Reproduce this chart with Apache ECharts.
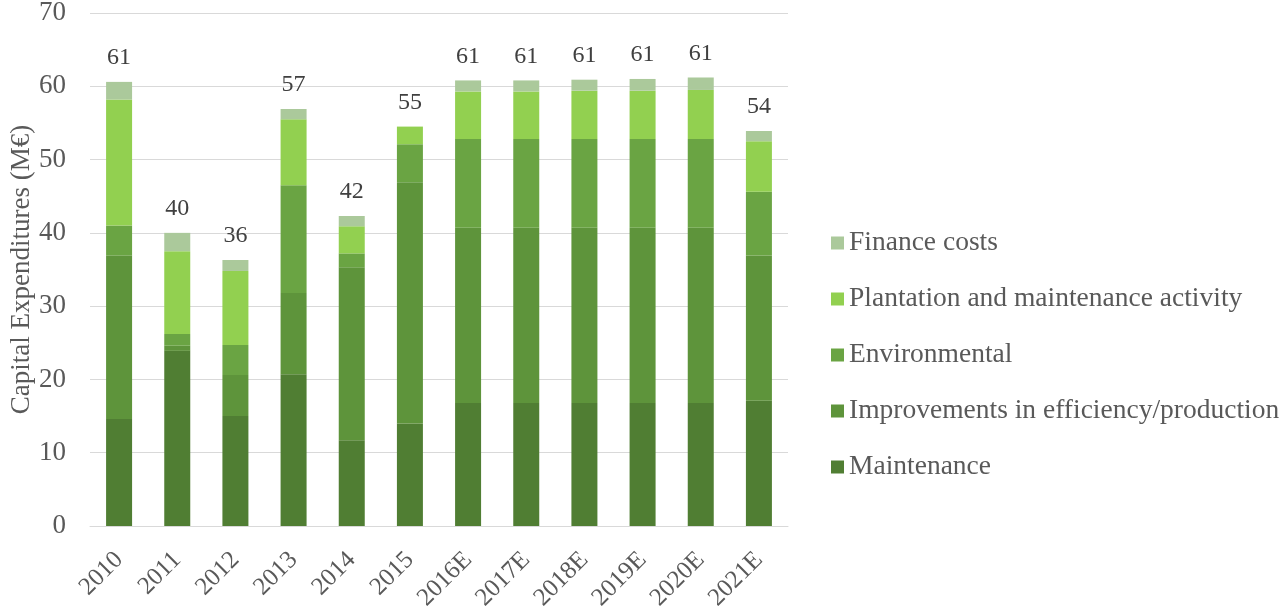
<!DOCTYPE html>
<html><head><meta charset="utf-8">
<script src="https://cdn.jsdelivr.net/npm/echarts@6/dist/echarts.min.js"></script>
<style>html,body{margin:0;padding:0;background:#fff}#c{width:1283px;height:616px}</style>
</head><body><div id="c"></div>
<script>
const categories = ['2010','2011','2012','2013','2014','2015','2016E','2017E','2018E','2019E','2020E','2021E'];
const maintenance = [14.6, 23.9, 15.0, 20.7, 11.7, 14.0, 16.8, 16.8, 16.8, 16.8, 16.8, 17.1];
const improvements = [22.3, 0.7, 5.6, 11.1, 23.6, 32.9, 23.9, 23.9, 23.9, 23.9, 23.9, 19.8];
const environmental = [4.1, 1.6, 4.1, 14.7, 1.9, 5.2, 12.1, 12.1, 12.1, 12.1, 12.1, 8.7];
const plantation = [17.2, 11.3, 10.1, 9.0, 3.7, 2.4, 6.5, 6.5, 6.6, 6.6, 6.7, 6.9];
const finance = [2.4, 2.5, 1.5, 1.4, 1.4, 0, 1.5, 1.5, 1.5, 1.6, 1.7, 1.4];
const yTicks = [0, 10, 20, 30, 40, 50, 60, 70];

const font = 'Liberation Serif';
const totals = categories.map((_, i) => maintenance[i] + improvements[i] + environmental[i] + plantation[i] + finance[i]);

function mk(name, data, color, withLabel) {
  const s = { name, type: 'bar', stack: 'all', data, barWidth: 26, itemStyle: { color }, emphasis: { disabled: true } };
  if (withLabel) {
    s.label = { show: true, position: 'top', distance: 12, fontFamily: font, fontSize: 24, color: '#404040',
      formatter: p => Math.round(totals[p.dataIndex]) };
  }
  return s;
}

const chart = echarts.init(document.getElementById('c'));
chart.setOption({
  animation: false,
  grid: { left: 90, right: 495, top: 13, bottom: 90, containLabel: false, outerBoundsMode: 'none' },
  legend: {
    orient: 'vertical', left: 826, top: 224, itemGap: 28, itemWidth: 13, itemHeight: 13, icon: 'rect',
    textStyle: { fontFamily: font, fontSize: 27.5, color: '#595959' },
    data: ['Finance costs', 'Plantation and maintenance activity', 'Environmental', 'Improvements in efficiency/production', 'Maintenance']
  },
  xAxis: {
    type: 'category', data: categories,
    axisLine: { lineStyle: { color: '#d9d9d9' } }, axisTick: { show: false },
    axisLabel: { rotate: 45, fontFamily: font, fontSize: 25, color: '#595959', margin: 30, interval: 0 }
  },
  yAxis: {
    type: 'value', min: yTicks[0], max: yTicks[yTicks.length - 1], interval: 10,
    name: 'Capital Expenditures (M€)', nameLocation: 'middle', nameGap: 55, nameRotate: 90, nameMoveOverlap: false,
    nameTextStyle: { fontFamily: font, fontSize: 27, color: '#595959' },
    axisLine: { show: false }, axisTick: { show: false },
    splitLine: { lineStyle: { color: '#d9d9d9' } },
    axisLabel: { fontFamily: font, fontSize: 27, color: '#595959', margin: 24 }
  },
  series: [
    mk('Maintenance', maintenance, '#507e33'),
    mk('Improvements in efficiency/production', improvements, '#5e943b'),
    mk('Environmental', environmental, '#6aa443'),
    mk('Plantation and maintenance activity', plantation, '#92d050'),
    mk('Finance costs', finance, '#abc99b', true)
  ]
});
</script></body></html>
